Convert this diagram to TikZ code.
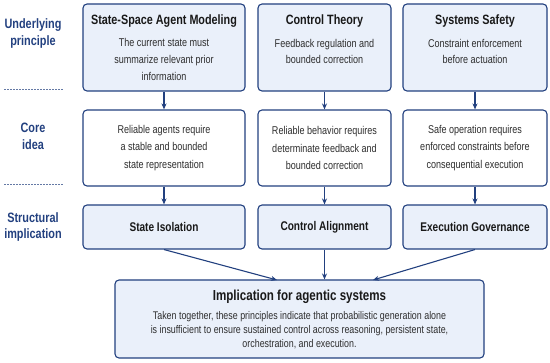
\documentclass[tikz,border=0pt]{standalone}
\usepackage{fontspec}
\setmainfont{Liberation Sans}[FakeStretch=0.8]
\usepackage{tikz}
\usetikzlibrary{arrows.meta, positioning}

\definecolor{navy}{HTML}{22407F}
\definecolor{paleblue}{HTML}{EAF0FA}
\definecolor{bodygray}{HTML}{2E2E2E}
\newcommand{\boxhead}[1]{{\fontsize{13.5}{16}\selectfont\bfseries\color{black!90}#1}}

\begin{document}
\begin{tikzpicture}[
    x=1pt, y=-1pt,
    principle/.style={rectangle, rounded corners=4pt, draw=navy, line width=1.1pt, fill=paleblue, align=center, text=bodygray, inner sep=0pt, font=\fontsize{11.3}{16.7}\selectfont},
    idea/.style={principle, fill=white, font=\fontsize{11.3}{17.5}\selectfont},
    implication/.style={principle, minimum height=44pt, text=black!90, font=\fontsize{12.6}{15}\selectfont\bfseries},
    side/.style={align=center, text=navy, font=\fontsize{13.6}{16.5}\selectfont\bfseries},
    divider/.style={draw=navy!70, line width=0.8pt, dash pattern=on 1.6pt off 1.4pt},
    flow/.style={-{Stealth[length=6pt, width=5pt]}, draw=navy, line width=1.1pt}
]
\useasboundingbox (0,0) rectangle (550,363);

% Row labels
\node[side] (lblprin) at (33,33.5) {Underlying\\principle};
\node[side] (lblcore) at (33,136.5) {Core\\idea};
\node[side] (lblstruct) at (33,227) {Structural\\implication};
\draw[divider] (4,89) -- (63,89);
\draw[divider] (4,184.5) -- (63,184.5);

% Underlying principle
\node[principle, minimum width=162pt, minimum height=87pt] (ssam) at (164,47.5)
    {\boxhead{State-Space Agent Modeling}\\[6pt]The current state must\\summarize relevant prior\\information};
\node[principle, minimum width=133pt, minimum height=87pt] (ctheory) at (324.5,47.5)
    {\boxhead{Control Theory}\\[6pt]Feedback regulation and\\bounded correction\\\phantom{x}};
\node[principle, minimum width=144pt, minimum height=87pt] (safety) at (475,47.5)
    {\boxhead{Systems Safety}\\[6pt]Constraint enforcement\\before actuation\\\phantom{x}};

% Core idea
\node[idea, minimum width=162pt, minimum height=76pt] (coreA) at (164,148)
    {Reliable agents require\\a stable and bounded\\state representation};
\node[idea, minimum width=133pt, minimum height=76pt] (coreB) at (324.5,148)
    {Reliable behavior requires\\determinate feedback and\\bounded correction};
\node[idea, minimum width=144pt, minimum height=76pt] (coreC) at (475,148)
    {Safe operation requires\\enforced constraints before\\consequential execution};

% Structural implication
\node[implication, minimum width=162pt] (isol) at (164,227) {State Isolation};
\node[implication, minimum width=133pt] (align) at (324.5,227) {Control Alignment};
\node[implication, minimum width=144pt] (govern) at (475,227) {Execution Governance};

% Implication for agentic systems
\node[principle, minimum width=369pt, minimum height=78pt, font=\fontsize{11.1}{14}\selectfont] (impl) at (299.5,319)
    {{\fontsize{14.5}{17}\selectfont\bfseries\color{black!90}Implication for agentic systems}\\[5pt]Taken together, these principles indicate that probabilistic generation alone\\is insufficient to ensure sustained control across reasoning, persistent state,\\orchestration, and execution.};
\coordinate (inIsol) at (277,280);
\coordinate (inGovern) at (373,280);

\draw[flow] (ssam) -- (coreA);
\draw[flow] (ctheory) -- (coreB);
\draw[flow] (safety) -- (coreC);
\draw[flow] (coreA) -- (isol);
\draw[flow] (coreB) -- (align);
\draw[flow] (coreC) -- (govern);
\draw[flow] (isol.south) -- (inIsol);
\draw[flow] (align) -- (align |- impl.north);
\draw[flow] (govern.south) -- (inGovern);

\end{tikzpicture}
\end{document}
